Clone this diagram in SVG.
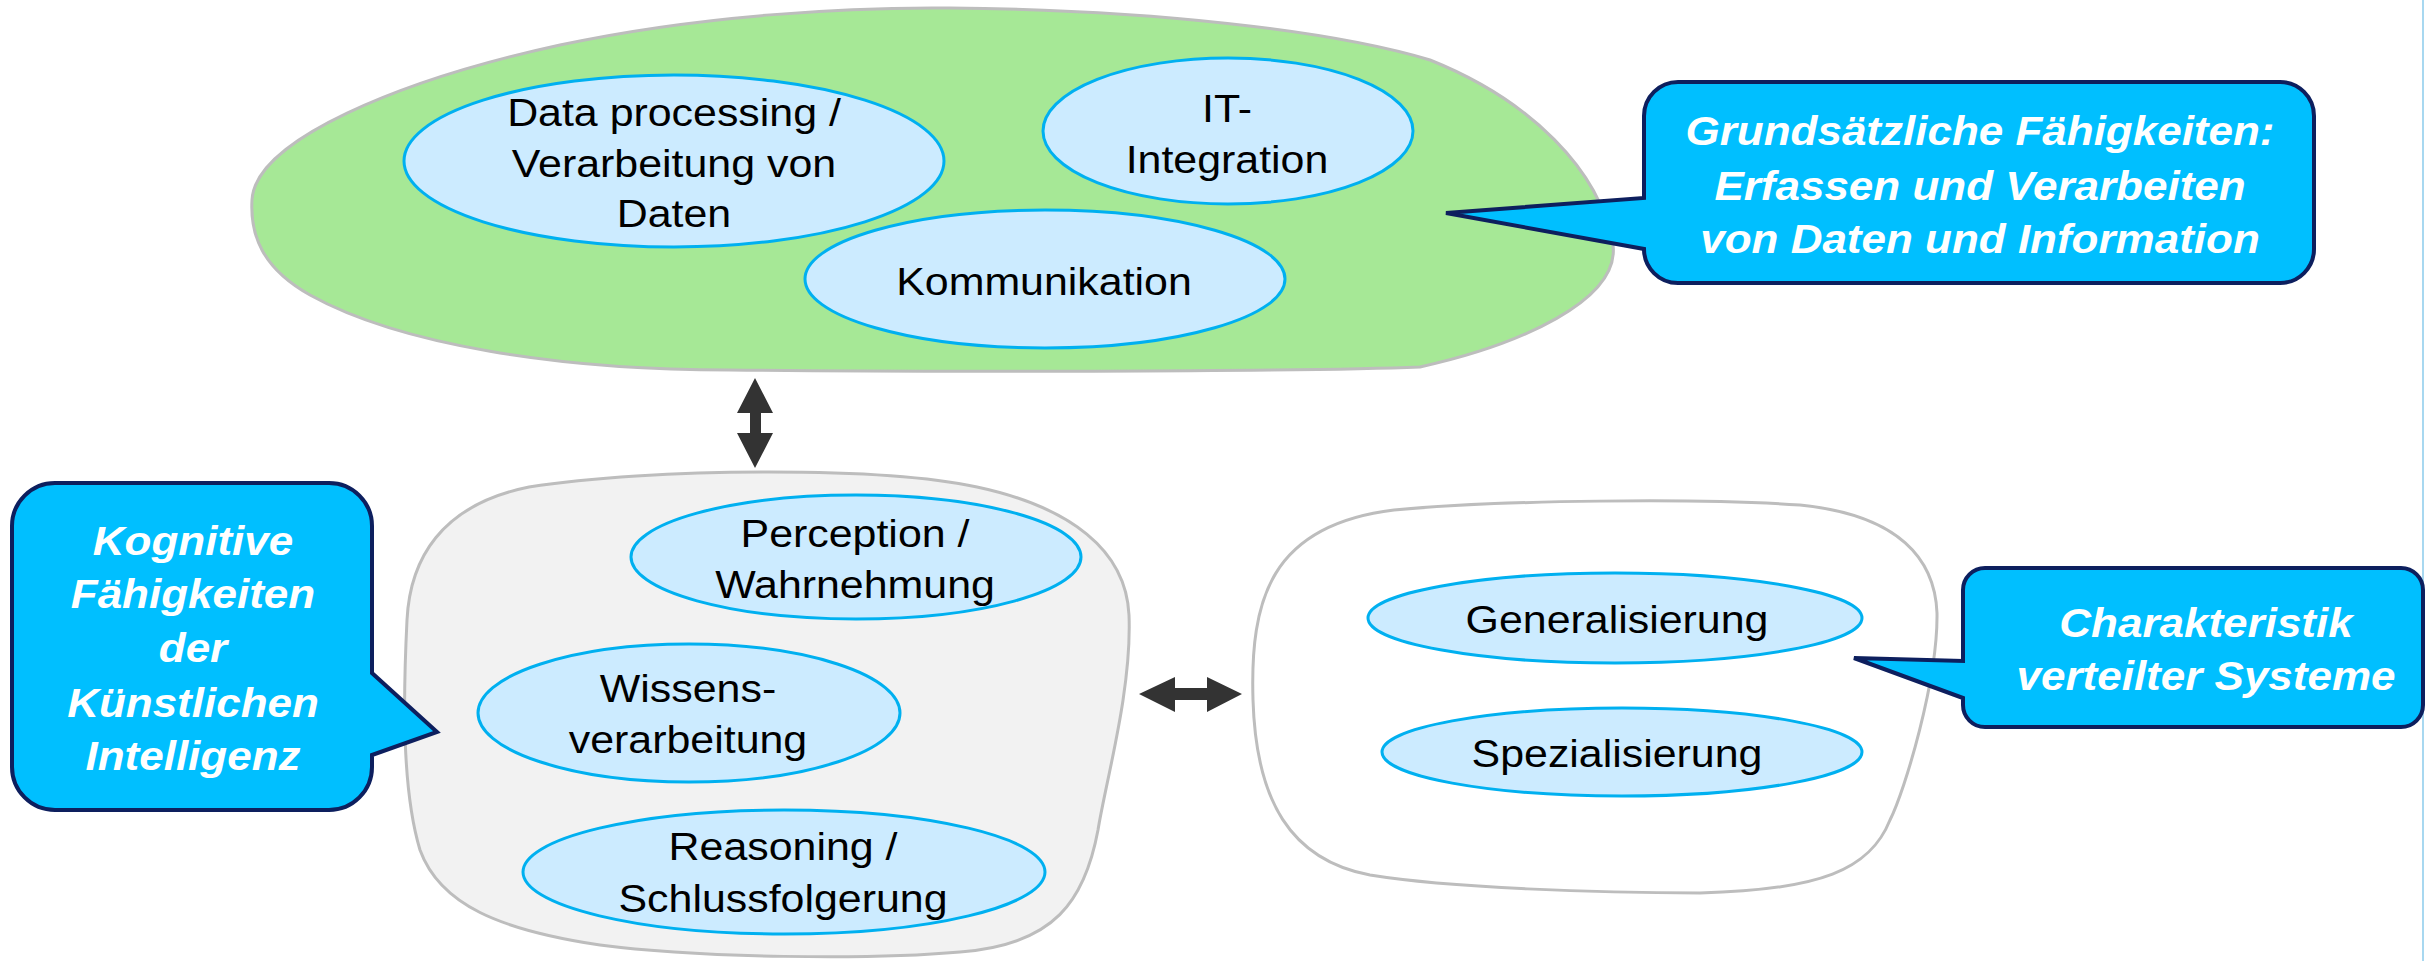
<svg xmlns="http://www.w3.org/2000/svg" width="2425" height="961" viewBox="0 0 2425 961">
<defs>
<style>
.blob{stroke:#BDBDBD;stroke-width:3}
.ell{fill:#CCEBFF;stroke:#00B0F0;stroke-width:3}
.lbl{font-family:"Liberation Sans",Arial,sans-serif;font-size:39px;fill:#000;text-anchor:middle}
.call{fill:#00BFFF;stroke:#0D1F5E;stroke-width:4;stroke-linejoin:miter}
.ctxt{font-family:"Liberation Sans",Arial,sans-serif;font-size:40px;font-weight:bold;font-style:italic;fill:#fff;text-anchor:middle}
.arr{fill:#333333}
</style>
</defs>
<rect x="0" y="0" width="2425" height="961" fill="#ffffff"/>
<line x1="2423" y1="0" x2="2423" y2="961" stroke="#A8D8F0" stroke-width="2"/>

<g id="grundlagen">
<path class="blob" fill="#A6E896" d="M 252 200 C 255 140, 400 80, 560 45 C 700 15, 850 7, 950 8 C 1150 10, 1330 30, 1430 60 C 1530 100, 1600 170, 1613 245 C 1620 300, 1520 345, 1420 367 C 1300 372, 900 372, 730 370 C 560 370, 400 345, 310 295 C 262 268, 250 235, 252 200 Z"/>
</g>
<g id="data-processing">
<ellipse class="ell" cx="674" cy="161" rx="270" ry="86"/>
<text class="lbl" transform="translate(674 0) scale(1.1 1)"><tspan x="0" y="126">Data processing /</tspan><tspan x="0" y="177">Verarbeitung von</tspan><tspan x="0" y="227">Daten</tspan></text>
</g>
<g id="it-integration">
<ellipse class="ell" cx="1228" cy="131" rx="185" ry="73"/>
<text class="lbl" transform="translate(1227 0) scale(1.1 1)"><tspan x="0" y="122">IT-</tspan><tspan x="0" y="173">Integration</tspan></text>
</g>
<g id="kommunikation">
<ellipse class="ell" cx="1045" cy="279" rx="240" ry="69"/>
<text class="lbl" transform="translate(1044 0) scale(1.1 1)"><tspan x="0" y="295">Kommunikation</tspan></text>
</g>

<g id="kognitiv">
<path class="blob" fill="#F2F2F2" d="M 529 487 C 650 468, 880 466, 977 487 C 1070 507, 1126 550, 1129 615 C 1132 690, 1106 780, 1098 830 C 1085 900, 1055 945, 960 952 C 870 960, 700 958, 600 945 C 500 930, 440 905, 420 850 C 402 790, 403 700, 407 620 C 410 560, 440 505, 529 487 Z"/>
</g>
<g id="perception">
<ellipse class="ell" cx="856" cy="557" rx="225" ry="62"/>
<text class="lbl" transform="translate(855 0) scale(1.1 1)"><tspan x="0" y="547">Perception /</tspan><tspan x="0" y="598">Wahrnehmung</tspan></text>
</g>
<g id="wissensverarbeitung">
<ellipse class="ell" cx="689" cy="713" rx="211" ry="69"/>
<text class="lbl" transform="translate(688 0) scale(1.1 1)"><tspan x="0" y="702">Wissens-</tspan><tspan x="0" y="753">verarbeitung</tspan></text>
</g>
<g id="reasoning">
<ellipse class="ell" cx="784" cy="872" rx="261" ry="62"/>
<text class="lbl" transform="translate(783 0) scale(1.1 1)"><tspan x="0" y="860">Reasoning /</tspan><tspan x="0" y="912">Schlussfolgerung</tspan></text>
</g>

<g id="verteilt">
<path class="blob" fill="#ffffff" d="M 1394 510 C 1500 500, 1700 498, 1800 505 C 1900 515, 1935 560, 1937 613 C 1938 680, 1905 790, 1890 820 C 1870 870, 1820 890, 1700 893 C 1600 893, 1450 888, 1370 875 C 1290 860, 1256 800, 1253 700 C 1250 600, 1270 525, 1394 510 Z"/>
</g>
<g id="generalisierung">
<ellipse class="ell" cx="1615" cy="618" rx="247" ry="45"/>
<text class="lbl" transform="translate(1617 0) scale(1.1 1)"><tspan x="0" y="633">Generalisierung</tspan></text>
</g>
<g id="spezialisierung">
<ellipse class="ell" cx="1622" cy="752" rx="240" ry="44"/>
<text class="lbl" transform="translate(1617 0) scale(1.1 1)"><tspan x="0" y="767">Spezialisierung</tspan></text>
</g>

<g id="connectors">
<polygon class="arr" points="755,378 773,413 761,413 761,433 773,433 755,468 737,433 750,433 750,413 737,413"/>
<polygon class="arr" points="1139,694 1175,677 1175,688 1207,688 1207,677 1242,694 1207,712 1207,700 1175,700 1175,712"/>
</g>

<g id="callout-grundsaetzlich">
<path class="call" d="M 1678 82 H 2280 A 34 34 0 0 1 2314 116 V 249 A 34 34 0 0 1 2280 283 H 1678 A 34 34 0 0 1 1644 249 L 1446 213 L 1644 198 V 116 A 34 34 0 0 1 1678 82 Z"/>
<text class="ctxt" transform="translate(1980 0) scale(1.1 1)"><tspan x="0" y="145">Grundsätzliche Fähigkeiten:</tspan><tspan x="0" y="200">Erfassen und Verarbeiten</tspan><tspan x="0" y="253">von Daten und Information</tspan></text>
</g>
<g id="callout-kognitiv">
<path class="call" d="M 55 483 H 329 A 43 43 0 0 1 372 526 V 673 L 437 732 L 372 755 V 767 A 43 43 0 0 1 329 810 H 55 A 43 43 0 0 1 12 767 V 526 A 43 43 0 0 1 55 483 Z"/>
<text class="ctxt" transform="translate(193 0) scale(1.1 1)"><tspan x="0" y="555">Kognitive</tspan><tspan x="0" y="608">Fähigkeiten</tspan><tspan x="0" y="662">der</tspan><tspan x="0" y="717">Künstlichen</tspan><tspan x="0" y="770">Intelligenz</tspan></text>
</g>
<g id="callout-verteilt">
<path class="call" d="M 1985 568 H 2401 A 22 22 0 0 1 2423 590 V 705 A 22 22 0 0 1 2401 727 H 1985 A 22 22 0 0 1 1963 705 V 698 L 1854 658 L 1963 661 V 590 A 22 22 0 0 1 1985 568 Z"/>
<text class="ctxt" transform="translate(2206 0) scale(1.1 1)"><tspan x="0" y="637">Charakteristik</tspan><tspan x="0" y="690">verteilter Systeme</tspan></text>
</g>
</svg>
